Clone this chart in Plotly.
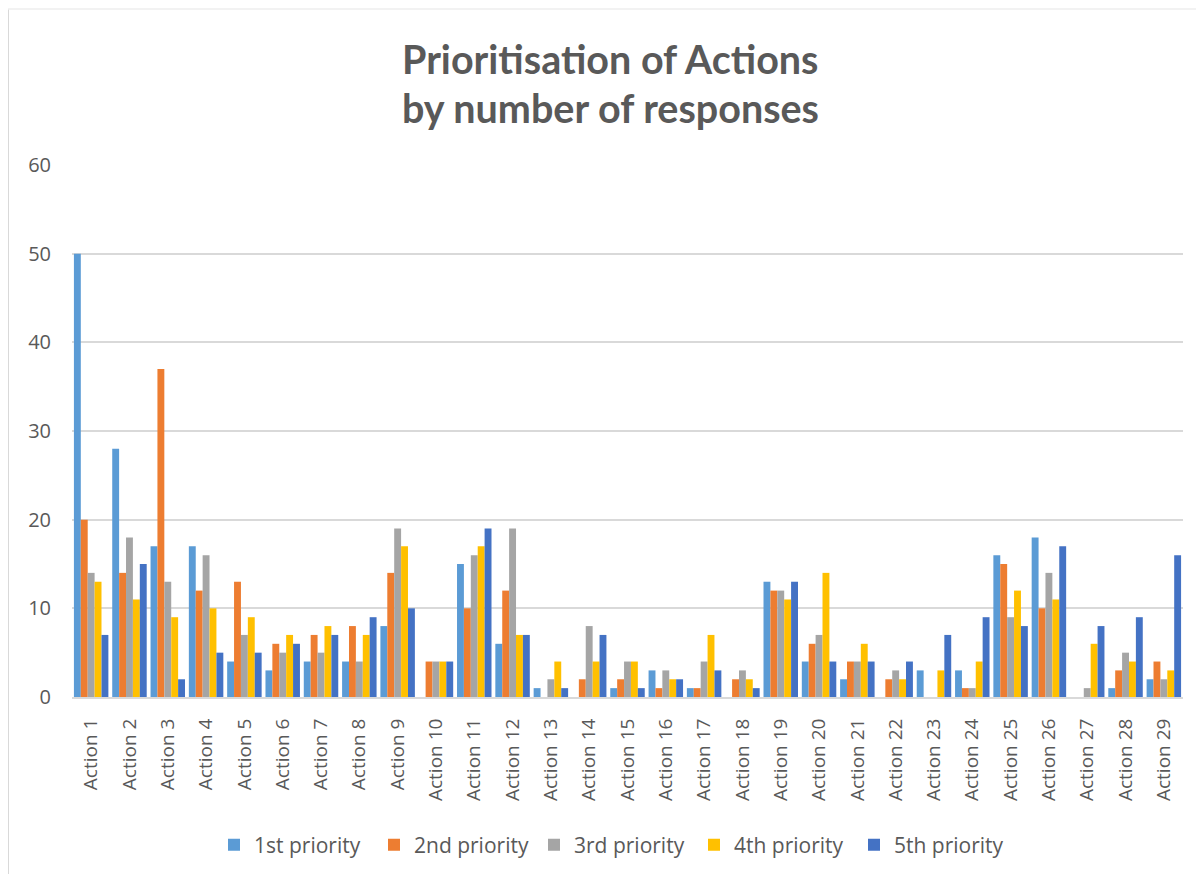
import plotly.graph_objects as go

categories = [f"Action {i}" for i in range(1, 30)]

p1 = [50, 28, 17, 17, 4, 3, 4, 4, 8, 0, 15, 6, 1, 0, 1, 3, 1, 0, 13, 4, 2, 0, 3, 3, 16, 18, 0, 1, 2]
p2 = [20, 14, 37, 12, 13, 6, 7, 8, 14, 4, 10, 12, 0, 2, 2, 1, 1, 2, 12, 6, 4, 2, 0, 1, 15, 10, 0, 3, 4]
p3 = [14, 18, 13, 16, 7, 5, 5, 4, 19, 4, 16, 19, 2, 8, 4, 3, 4, 3, 12, 7, 4, 3, 0, 1, 9, 14, 1, 5, 2]
p4 = [13, 11, 9, 10, 9, 7, 8, 7, 17, 4, 17, 7, 4, 4, 4, 2, 7, 2, 11, 14, 6, 2, 3, 4, 12, 11, 6, 4, 3]
p5 = [7, 15, 2, 5, 5, 6, 7, 9, 10, 4, 19, 7, 1, 7, 1, 2, 3, 1, 13, 4, 4, 4, 7, 9, 8, 17, 8, 9, 16]

series_names = ["1st priority", "2nd priority", "3rd priority", "4th priority", "5th priority"]
series_values = [p1, p2, p3, p4, p5]
series_colors = ["#5B9BD5", "#ED7D31", "#A5A5A5", "#FFC000", "#4472C4"]

TXT = "#595959"
FONT = "Open Sans, Lato, DejaVu Sans, sans-serif"
TFONT = "Lato, Open Sans, sans-serif"

fig = go.Figure()
for name, vals, col in zip(series_names, series_values, series_colors):
    fig.add_trace(go.Bar(x=categories, y=vals, name=name,
                         marker=dict(color=col, line=dict(width=0))))

OFF = 8  # page body offset
W, H = 1204, 874
pw, ph = 1111, 532
L, T = 72 - OFF, 165 - OFF
R = W - L - pw
B = H - T - ph

def px_x(x):
    return (x - OFF - L) / pw

def px_y(y):
    return (T + ph - (y - OFF)) / ph

fig.update_layout(
    width=W, height=H,
    margin=dict(l=L, r=R, t=T, b=B),
    paper_bgcolor="white", plot_bgcolor="white",
    barmode="group", bargap=0.1, bargroupgap=0,
    font=dict(family=FONT, color=TXT, size=19),
    showlegend=True,
    legend=dict(orientation="h", x=px_x(614), xanchor="center",
                y=px_y(845), yanchor="middle",
                font=dict(size=21, color=TXT, family=FONT),
                entrywidth=115, entrywidthmode="pixels",
                itemclick=False),
    xaxis=dict(type="category", tickangle=-90, showgrid=False,
               showline=True, linecolor="#d9d9d9", linewidth=2,
               ticks="", ticklabelstandoff=12,
               tickfont=dict(size=19, color=TXT, family=FONT)),
    yaxis=dict(range=[0, 60], dtick=10, showgrid=True, gridcolor="#d9d9d9",
               gridwidth=1.5, zeroline=False, showline=False, ticks="",
               ticklabelstandoff=20,
               tickfont=dict(size=20, color=TXT, family=FONT)),
    annotations=[
        dict(text="<b>Prioritisation of Actions</b>", xref="paper", yref="paper",
             x=px_x(610), y=px_y(58), xanchor="center", yanchor="middle",
             showarrow=False, font=dict(size=39.5, color=TXT, family=TFONT)),
        dict(text="<b>by number of responses</b>", xref="paper", yref="paper",
             x=px_x(610), y=px_y(108), xanchor="center", yanchor="middle",
             showarrow=False, font=dict(size=39.5, color=TXT, family=TFONT)),
    ],
    shapes=[
        dict(type="line", xref="paper", yref="paper", x0=px_x(8), x1=px_x(8),
             y0=px_y(9), y1=px_y(890), line=dict(color="#d9d9d9", width=2)),
        dict(type="line", xref="paper", yref="paper", x0=px_x(8), x1=px_x(1220),
             y0=px_y(9), y1=px_y(9), line=dict(color="#eeeeee", width=1.5)),
    ],
)

fig.write_html("out.html")
